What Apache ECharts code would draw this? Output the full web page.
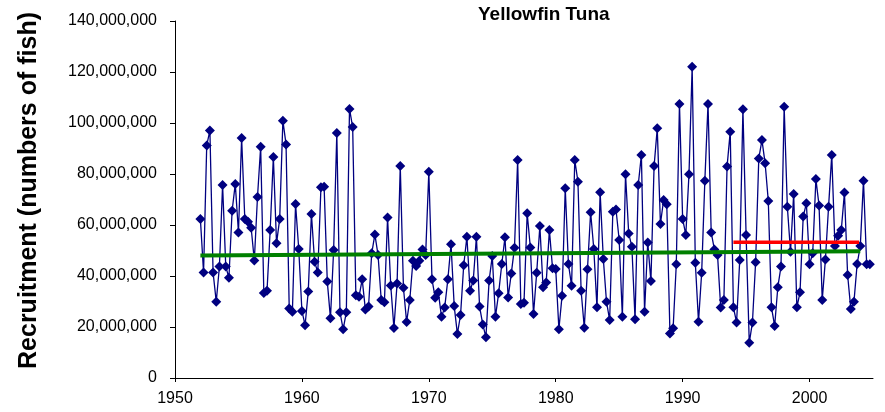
<!DOCTYPE html>
<html>
<head>
<meta charset="utf-8">
<title>Yellowfin Tuna</title>
<script src="https://cdn.jsdelivr.net/npm/echarts@6/dist/echarts.min.js"></script>
<style>
  html, body { margin: 0; padding: 0; background: #ffffff; }
  #chart { width: 885px; height: 412px; }
</style>
</head>
<body>
<div id="chart"></div>
<script>
// Quarterly recruitment, millions of fish, starting in the first quarter of 1952
const firstYear = 1952;
const quartersPerYear = 4;
const recruitmentMillions = [
  62.4, 41.4, 91.2, 97.1,   // 1952
  41.4, 29.9, 43.7, 75.7,   // 1953
  43.7, 39.3, 65.6, 76.1,   // 1954
  57.1, 94.1, 62.4, 61.3,   // 1955
  58.9, 46.1, 71.0, 90.7,   // 1956
  33.3, 34.2, 58.0, 86.7,   // 1957
  52.8, 62.4, 100.9, 91.6,  // 1958
  27.3, 26.0, 68.2, 50.6,   // 1959
  26.3, 20.7, 33.9, 64.3,   // 1960
  45.6, 41.4, 74.8, 75.0,   // 1961
  37.8, 23.4, 50.2, 96.1,   // 1962
  25.8, 19.1, 25.8, 105.5,  // 1963
  98.4, 32.5, 31.9, 38.7,   // 1964
  26.9, 28.0, 48.9, 56.3,   // 1965
  48.2, 30.6, 29.7, 62.9,   // 1966
  36.3, 19.6, 37.1, 83.1,   // 1967
  35.4, 22.0, 30.6, 46.0,   // 1968
  43.9, 46.0, 50.4, 48.2,   // 1969
  80.9, 38.7, 31.5, 33.6,   // 1970
  24.0, 27.6, 38.7, 52.5,   // 1971
  28.2, 17.3, 24.7, 44.2,   // 1972
  55.4, 34.2, 38.2, 55.4,   // 1973
  28.0, 21.0, 16.0, 38.2,   // 1974
  47.8, 24.0, 33.2, 44.7,   // 1975
  55.2, 31.6, 41.0, 51.1,   // 1976
  85.5, 29.0, 29.5, 64.6,   // 1977
  51.2, 25.1, 41.3, 59.6,   // 1978
  35.6, 37.5, 58.0, 43.0,   // 1979
  42.7, 19.1, 32.3, 74.4,   // 1980
  44.7, 36.2, 85.5, 77.0,   // 1981
  34.2, 19.7, 42.6, 65.0,   // 1982
  50.6, 27.7, 72.8, 46.7,   // 1983
  29.9, 22.7, 65.2, 66.1,   // 1984
  54.1, 24.0, 79.9, 56.7,   // 1985
  51.5, 23.0, 75.7, 87.5,   // 1986
  26.0, 53.1, 38.0, 83.1,   // 1987
  97.9, 60.4, 69.8, 68.1,   // 1988
  17.5, 19.5, 44.6, 107.5,  // 1989
  62.4, 56.1, 79.9, 122.1,  // 1990
  45.2, 22.1, 41.3, 77.4,   // 1991
  107.5, 57.1, 50.4, 48.2,  // 1992
  27.6, 30.6, 82.9, 96.6,   // 1993
  27.7, 21.8, 46.3, 105.4,  // 1994
  56.1, 13.8, 21.8, 45.4,   // 1995
  86.1, 93.3, 84.2, 69.4,   // 1996
  27.7, 20.4, 35.6, 43.7,   // 1997
  106.4, 67.2, 49.5, 72.2,  // 1998
  27.7, 33.6, 63.3, 68.5,   // 1999
  44.6, 48.9, 78.0, 67.6,   // 2000
  30.6, 46.5, 67.2, 87.5,   // 2001
  51.8, 55.8, 58.0, 72.7,   // 2002
  40.4, 27.1, 29.9, 44.7,   // 2003
  51.8, 77.4, 44.6, 44.6    // 2004
];

// Long-term average level (green) and recent average level (red): [year, millions]
const longTermLevel = [[1952.0, 48.0], [2004.0, 49.7]];
const recentLevel = [[1994.0, 53.2], [2003.9, 53.2]];

// Axis settings
const yearTicks = { min: 1950, max: 2005, step: 10 };
const countTicks = { min: 0, max: 140000000, step: 20000000 };

const million = 1e6;
const toPoints = (pairs) => pairs.map(([yr, v]) => [yr, v * million]);
const recruitmentPoints = recruitmentMillions.map((v, i) => [firstYear + i / quartersPerYear, v * million]);

const FONT = '"Liberation Sans", Arial, sans-serif';

const chart = echarts.init(document.getElementById('chart'), null, { renderer: 'canvas' });
chart.setOption({
  animation: false,
  backgroundColor: '#ffffff',
  title: {
    text: 'Yellowfin Tuna',
    left: 478,
    top: 5,
    padding: 0,
    textStyle: { fontFamily: FONT, fontSize: 19, fontWeight: 'bold', color: '#000000' }
  },
  grid: { left: 175, right: 12, top: 21, bottom: 34, containLabel: false },
  xAxis: {
    type: 'value',
    min: yearTicks.min,
    max: yearTicks.max,
    interval: yearTicks.step,
    axisLine: { show: true, lineStyle: { color: '#000000', width: 1 } },
    axisTick: { show: true, length: 4, lineStyle: { color: '#000000' } },
    splitLine: { show: false },
    axisLabel: {
      fontFamily: FONT, fontSize: 16, color: '#000000', margin: 13,
      showMaxLabel: false,
      formatter: (v) => String(v)
    }
  },
  yAxis: {
    type: 'value',
    min: countTicks.min,
    max: countTicks.max,
    interval: countTicks.step,
    name: 'Recruitment (numbers of fish)',
    nameLocation: 'middle',
    nameRotate: 90,
    nameGap: 133,
    nameTextStyle: {
      fontFamily: FONT, fontSize: 25, fontWeight: 'bold', color: '#000000',
      padding: [0, 0, 0, 18]
    },
    axisLine: { show: true, lineStyle: { color: '#000000', width: 1 } },
    axisTick: { show: true, length: 5, lineStyle: { color: '#000000' } },
    splitLine: { show: false },
    axisLabel: {
      fontFamily: FONT, fontSize: 16, color: '#000000', margin: 18,
      formatter: (v) => v.toLocaleString('en-US')
    }
  },
  series: [
    {
      type: 'line',
      data: recruitmentPoints,
      symbol: 'diamond',
      symbolSize: 10,
      showAllSymbol: true,
      lineStyle: { color: '#000080', width: 1.3 },
      itemStyle: { color: '#000080' },
      z: 2
    },
    {
      type: 'line',
      data: toPoints(longTermLevel),
      symbol: 'none',
      lineStyle: { color: '#008000', width: 4 },
      z: 3
    },
    {
      type: 'line',
      data: toPoints(recentLevel),
      symbol: 'none',
      lineStyle: { color: '#ff0000', width: 3.5 },
      z: 3
    }
  ]
});
</script>
</body>
</html>
